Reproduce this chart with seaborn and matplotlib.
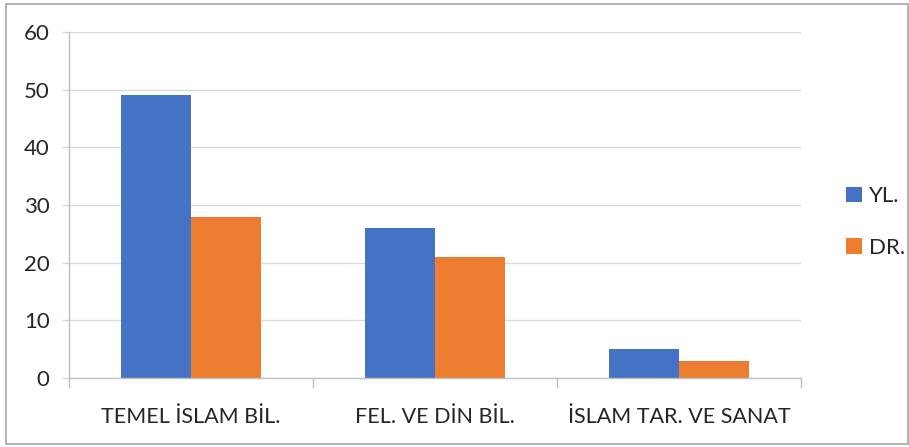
import matplotlib
matplotlib.use("Agg")
import matplotlib.pyplot as plt
import seaborn as sns
import pandas as pd
from matplotlib.patches import Rectangle, Patch

categories = ["TEMEL İSLAM BİL.", "FEL. VE DİN BİL.", "İSLAM TAR. VE SANAT"]
series_names = ["YL.", "DR."]
yl_values = [49, 26, 5]
dr_values = [28, 21, 3]
y_ticks = [0, 10, 20, 30, 40, 50, 60]
colors = ["#4472C4", "#ED7D31"]

df = pd.DataFrame({
    "category": categories * 2,
    "series": [series_names[0]] * 3 + [series_names[1]] * 3,
    "value": yl_values + dr_values,
})

sns.set_theme(style="white")
plt.rcParams["font.family"] = ["Lato", "DejaVu Sans"]
text_color = "#262626"

W, H = 909, 447
fig = plt.figure(figsize=(W / 100, H / 100), dpi=100)
ax = fig.add_axes([69 / W, 1 - 378 / H, (801 - 69) / W, (378 - 32) / H])

sns.barplot(data=df, x="category", y="value", hue="series", order=categories,
            hue_order=series_names, palette=colors, width=0.57, saturation=1,
            ax=ax, legend=False, edgecolor="none", linewidth=0)

ax.set_xlim(-0.5, 2.5)
ax.set_ylim(0, 60)
ax.set_yticks(y_ticks)
ax.set_yticklabels([str(t) for t in y_ticks], fontsize=16, color=text_color)
ax.set_xlabel("")
ax.set_ylabel("")

ax.yaxis.grid(True, color="#D9D9D9", linewidth=1)
ax.set_axisbelow(True)
for side in ["top", "right"]:
    ax.spines[side].set_visible(False)
ax.spines["left"].set_color("#BFBFBF")
ax.spines["bottom"].set_color("#BFBFBF")
ax.spines["left"].set_linewidth(1)
ax.spines["bottom"].set_linewidth(1)

ax.tick_params(axis="y", which="major", length=5, width=1, color="#D9D9D9",
               direction="out", pad=9, left=True)
# category labels
ax.set_xticks(range(3))
ax.set_xticklabels(categories, fontsize=15.5, color=text_color)
ax.tick_params(axis="x", which="major", length=0, pad=21)
# boundary ticks
ax.set_xticks([-0.5, 0.5, 1.5, 2.5], minor=True)
ax.tick_params(axis="x", which="minor", length=7, width=1, color="#BFBFBF",
               direction="out", bottom=True)

handles = [Patch(facecolor=c, edgecolor="none", label=n) for c, n in zip(colors, series_names)]
leg = fig.legend(handles=handles, loc="center left", bbox_to_anchor=(826 / W, 1 - 222 / H),
                 frameon=False, fontsize=16, handlelength=0.7, handleheight=0.7,
                 handletextpad=0.35, labelspacing=1.4, labelcolor=text_color)

fig.patches.append(Rectangle((6 / W, 3 / H), (908 - 6) / W, (444 - 4) / H,
                             transform=fig.transFigure, fill=False,
                             edgecolor="#A6A6A6", linewidth=1.2))

fig.savefig("out.png", dpi=100)
